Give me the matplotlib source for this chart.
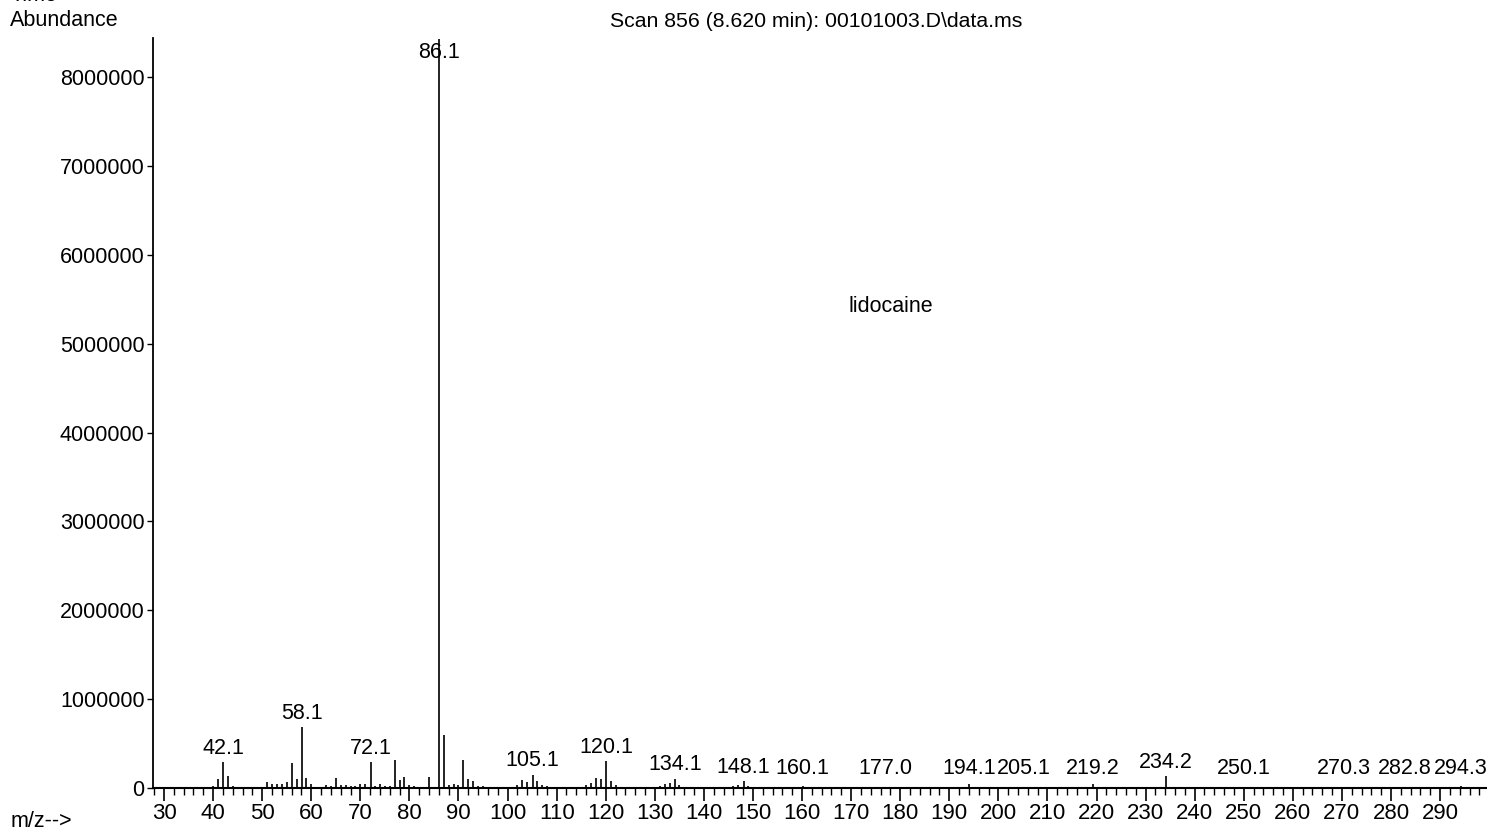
import numpy as np
import matplotlib.pyplot as plt
from matplotlib.ticker import MultipleLocator

plt.rcParams['font.family'] = ['Liberation Sans', 'DejaVu Sans']

# mass spectrum (m/z, abundance)
mz = [40, 41, 42.1, 43, 44,
      51, 52, 53, 54, 55, 56, 57, 58.1, 59, 60,
      63, 64, 65, 66, 67, 68, 69, 70, 71, 72.1, 73, 74, 75, 76, 77, 78, 79, 80,
      81, 82, 83, 84, 86.1, 87, 88, 89, 90, 91, 92, 93, 94, 95,
      102, 103, 104, 105.1, 106, 107, 108, 109,
      116, 117, 118, 119, 120.1, 121, 122,
      131, 132, 133, 134.1, 135,
      146, 147, 148.1, 149,
      160.1, 177.0, 194.1, 205.1, 219.2, 234.2, 250.1, 270.3, 282.8, 294.3]
abundance = [20000, 100000, 290000, 130000, 25000,
             65000, 45000, 48000, 50000, 63000, 280000, 105000, 683000, 110000, 40000,
             30000, 25000, 115000, 30000, 30000, 20000, 20000, 50000, 40000, 291000,
             25000, 45000, 20000, 25000, 317000, 93000, 123000, 30000,
             20000, 15000, 15000, 120000, 8430000, 598000, 30000, 40000, 30000,
             314000, 100000, 82000, 25000, 20000,
             30000, 86000, 67000, 150000, 75000, 35000, 20000, 15000,
             30000, 60000, 116000, 104000, 300000, 78000, 30000,
             25000, 50000, 55000, 105000, 30000,
             25000, 35000, 78000, 25000,
             20000, 15000, 48000, 15000, 40000, 130000, 15000, 15000, 15000, 20000]
labelled = [42.1, 58.1, 72.1, 86.1, 105.1, 120.1, 134.1, 148.1, 160.1, 177.0,
            194.1, 205.1, 219.2, 234.2, 250.1, 270.3, 282.8, 294.3]

y_ticks = np.arange(0, 9000000, 1000000)
x_ticks = np.arange(30, 300, 10)

fig = plt.figure(figsize=(14.87, 8.36), dpi=100)
ax = fig.add_axes([0.1029, 0.0574, 0.8971, 0.8971])

ax.vlines(mz, 0, abundance, color='#111111', linewidth=1.3)

ymax = 8440000
ax.set_xlim(27.76, 299.56)
ax.set_ylim(0, ymax)

fs = 15.5
for m in labelled:
    h = abundance[mz.index(m)]
    if h > 0.9 * ymax:
        # base peak label sits at the top, crossed by its own line
        ax.annotate(f'{m:.1f}', (m, ymax), xytext=(0, -3), textcoords='offset points',
                    ha='center', va='top', fontsize=fs)
    else:
        ax.annotate(f'{m:.1f}', (m, max(h, 60000)), xytext=(0, 2.5),
                    textcoords='offset points', ha='center', va='bottom', fontsize=fs)

ax.text(169.4, 5420000, 'lidocaine', fontsize=fs, va='center', ha='left')

ax.spines['top'].set_visible(False)
ax.spines['right'].set_visible(False)
ax.spines['left'].set_linewidth(1.3)
ax.spines['bottom'].set_linewidth(1.5)

ax.set_yticks(y_ticks)
ax.set_yticklabels([f'{v:d}' for v in y_ticks])
ax.set_xticks(x_ticks)
ax.xaxis.set_minor_locator(MultipleLocator(2))
ax.tick_params(axis='y', direction='out', length=4, width=1, labelsize=fs, pad=2)
ax.tick_params(axis='x', which='major', direction='out', length=9, width=1.2,
               labelsize=16, pad=1.5)
ax.tick_params(axis='x', which='minor', direction='out', length=5, width=1)

fig.text(0.549, 0.974, 'Scan 856 (8.620 min): 00101003.D\\data.ms',
         ha='center', va='center', fontsize=15.3)
fig.text(0.007, 0.976, 'Abundance', ha='left', va='center', fontsize=15.5)
fig.text(0.007, 0.993, 'Time-->', ha='left', va='bottom', fontsize=15.5)
fig.text(0.007, 0.017, 'm/z-->', ha='left', va='center', fontsize=fs)

fig.savefig('out.png', dpi=100)
